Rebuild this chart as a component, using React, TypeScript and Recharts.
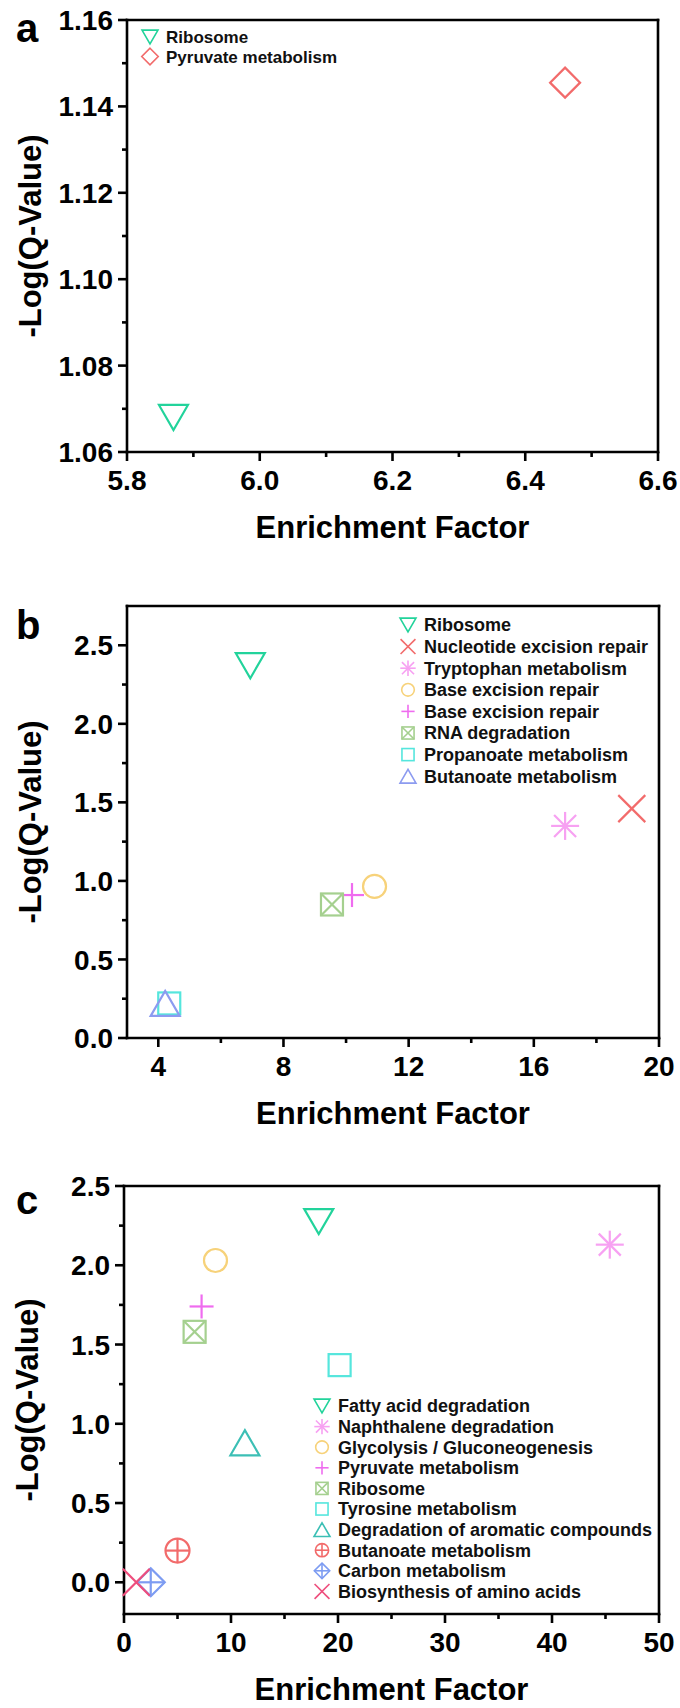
import React from 'react';
import { ScatterChart, Scatter, XAxis, YAxis, ReferenceLine } from 'recharts';

const FONT = 'Arial, "Liberation Sans", Helvetica, sans-serif';

// ---------- Panel a ----------
const aPathways = ['Ribosome', 'Pyruvate metabolism'];
const aEnrichment = [5.87, 6.46];
const aNegLogQ = [1.068, 1.1455];
const aXMajor = [5.8, 6.0, 6.2, 6.4, 6.6];
const aXMinor = [5.9, 6.1, 6.3, 6.5];
const aYMajor = [1.06, 1.08, 1.1, 1.12, 1.14, 1.16];
const aYMinor = [1.07, 1.09, 1.11, 1.13, 1.15];
const aGlyphs = ['triangleDown', 'diamond'];
const aColors = ['#22d39b', '#f26b6b'];

// ---------- Panel b ----------
const bPathways = [
  'Ribosome',
  'Nucleotide excision repair',
  'Tryptophan metabolism',
  'Base excision repair',
  'Base excision repair',
  'RNA degradation',
  'Propanoate metabolism',
  'Butanoate metabolism',
];
const bEnrichment = [6.94, 19.13, 17.0, 10.91, 10.19, 9.55, 4.35, 4.22];
const bNegLogQ = [2.37, 1.46, 1.35, 0.965, 0.91, 0.85, 0.22, 0.22];
const bXMajor = [4, 8, 12, 16, 20];
const bXMinor = [6, 10, 14, 18];
const bYMajor = [0, 0.5, 1, 1.5, 2, 2.5];
const bYMinor = [0.25, 0.75, 1.25, 1.75, 2.25];
const bGlyphs = ['triangleDown', 'cross', 'asterisk', 'circle', 'plus', 'squareX', 'square', 'triangleUp'];
const bColors = ['#22d39b', '#f26b6b', '#f7a1f2', '#f7d27a', '#ef6cef', '#a5d08f', '#55e6dd', '#8c9bf0'];

// ---------- Panel c ----------
const cPathways = [
  'Fatty acid degradation',
  'Naphthalene degradation',
  'Glycolysis / Gluconeogenesis',
  'Pyruvate metabolism',
  'Ribosome',
  'Tyrosine metabolism',
  'Degradation of aromatic compounds',
  'Butanoate metabolism',
  'Carbon metabolism',
  'Biosynthesis of amino acids',
];
const cEnrichment = [18.2, 45.4, 8.55, 7.25, 6.6, 20.15, 11.3, 5.0, 2.5, 1.15];
const cNegLogQ = [2.275, 2.13, 2.03, 1.74, 1.58, 1.37, 0.88, 0.2, 0.0, 0.0];
const cXMajor = [0, 10, 20, 30, 40, 50];
const cXMinor = [5, 15, 25, 35, 45];
const cYMajor = [0, 0.5, 1, 1.5, 2, 2.5];
const cYMinor = [0.25, 0.75, 1.25, 1.75, 2.25];
const cGlyphs = [
  'triangleDown', 'asterisk', 'circle', 'plus', 'squareX',
  'square', 'triangleUp', 'circlePlus', 'diamondPlus', 'cross',
];
const cColors = [
  '#22d39b', '#f7a1f2', '#f7d27a', '#ef6cef', '#a5d08f',
  '#55e6dd', '#3cbfb5', '#f26b6b', '#7d9cf2', '#ee4d7c',
];

type GlyphProps = { kind: string; cx: number; cy: number; color: string; scale?: number; sw?: number };

// Open (unfilled) plot symbols, centred on (cx, cy)
function Glyph({ kind, cx, cy, color, scale = 1, sw = 2.2 }: GlyphProps) {
  const base = { fill: 'none', stroke: color, strokeWidth: sw } as const;
  const s = scale;
  switch (kind) {
    case 'triangleDown': {
      const r = 14.5 * s, h = 25 * s;
      return <polygon {...base} points={`${cx - r},${cy - h / 2} ${cx + r},${cy - h / 2} ${cx},${cy + h / 2}`} />;
    }
    case 'triangleUp': {
      const r = 14.5 * s, h = 25 * s;
      return <polygon {...base} points={`${cx - r},${cy + h / 2} ${cx + r},${cy + h / 2} ${cx},${cy - h / 2}`} />;
    }
    case 'diamond': {
      const d = 15 * s;
      return <polygon {...base} points={`${cx},${cy - d} ${cx + d},${cy} ${cx},${cy + d} ${cx - d},${cy}`} />;
    }
    case 'cross': {
      const d = 13.5 * s;
      return (
        <g {...base}>
          <line x1={cx - d} y1={cy - d} x2={cx + d} y2={cy + d} />
          <line x1={cx - d} y1={cy + d} x2={cx + d} y2={cy - d} />
        </g>
      );
    }
    case 'asterisk': {
      const d = 14 * s, q = 11 * s;
      return (
        <g {...base}>
          <line x1={cx - d} y1={cy} x2={cx + d} y2={cy} />
          <line x1={cx} y1={cy - d} x2={cx} y2={cy + d} />
          <line x1={cx - q} y1={cy - q} x2={cx + q} y2={cy + q} />
          <line x1={cx - q} y1={cy + q} x2={cx + q} y2={cy - q} />
        </g>
      );
    }
    case 'circle':
      return <circle {...base} cx={cx} cy={cy} r={11.5 * s} />;
    case 'plus': {
      const d = 12 * s;
      return (
        <g {...base}>
          <line x1={cx - d} y1={cy} x2={cx + d} y2={cy} />
          <line x1={cx} y1={cy - d} x2={cx} y2={cy + d} />
        </g>
      );
    }
    case 'squareX': {
      const d = 11 * s;
      return (
        <g {...base}>
          <rect x={cx - d} y={cy - d} width={2 * d} height={2 * d} />
          <line x1={cx - d} y1={cy - d} x2={cx + d} y2={cy + d} />
          <line x1={cx - d} y1={cy + d} x2={cx + d} y2={cy - d} />
        </g>
      );
    }
    case 'square': {
      const d = 11 * s;
      return <rect {...base} x={cx - d} y={cy - d} width={2 * d} height={2 * d} />;
    }
    case 'circlePlus': {
      const r = 12 * s;
      return (
        <g {...base}>
          <circle cx={cx} cy={cy} r={r} />
          <line x1={cx - r} y1={cy} x2={cx + r} y2={cy} />
          <line x1={cx} y1={cy - r} x2={cx} y2={cy + r} />
        </g>
      );
    }
    case 'diamondPlus': {
      const d = 14 * s;
      return (
        <g {...base}>
          <polygon points={`${cx},${cy - d} ${cx + d},${cy} ${cx},${cy + d} ${cx - d},${cy}`} />
          <line x1={cx - d} y1={cy} x2={cx + d} y2={cy} />
          <line x1={cx} y1={cy - d} x2={cx} y2={cy + d} />
        </g>
      );
    }
    default:
      return null;
  }
}

const AXIS_W = 2.6;

function isIn(list: number[], v: number) {
  return list.some((m) => Math.abs(m - v) < 1e-9);
}

function makeXTick(major: number[], digits: number) {
  return (props: any) => {
    const { x, y, payload } = props;
    const v = payload.value as number;
    const big = isIn(major, v);
    return (
      <g>
        <line x1={x} x2={x} y1={y} y2={y + (big ? 9 : 5)} stroke="#000" strokeWidth={AXIS_W} />
        {big && (
          <text x={x} y={y + 28} dy="0.36em" textAnchor="middle" fontFamily={FONT} fontWeight="bold" fontSize={28} fill="#000">
            {v.toFixed(digits)}
          </text>
        )}
      </g>
    );
  };
}

function makeYTick(major: number[], digits: number) {
  return (props: any) => {
    const { x, y, payload } = props;
    const v = payload.value as number;
    const big = isIn(major, v);
    return (
      <g>
        <line x1={x} x2={x - (big ? 9 : 5)} y1={y} y2={y} stroke="#000" strokeWidth={AXIS_W} />
        {big && (
          <text x={x - 14} y={y} dy="0.36em" textAnchor="end" fontFamily={FONT} fontWeight="bold" fontSize={28} fill="#000">
            {v.toFixed(digits)}
          </text>
        )}
      </g>
    );
  };
}

type PanelSpec = {
  letter: string;
  names: string[];
  xs: number[];
  ys: number[];
  glyphs: string[];
  colors: string[];
  xDomain: [number, number];
  yDomain: [number, number];
  xMajor: number[];
  xMinor: number[];
  yMajor: number[];
  yMinor: number[];
  xDigits: number;
  yDigits: number;
  top: number;
  height: number;
  marginTop: number;
  marginBottom: number;
  marginRight: number;
  yAxisWidth: number;
  letterY: number;
  legendX: number;
  legendY: number;
  legendStep: number;
  legendFont: number;
};

const WIDTH = 680;
const X_AXIS_H = 70;

function Panel(p: PanelSpec) {
  const plotLeft = p.yAxisWidth;
  const plotRight = WIDTH - p.marginRight;
  const plotTop = p.marginTop;
  const plotBottom = p.height - p.marginBottom - X_AXIS_H;
  const midX = (plotLeft + plotRight) / 2;
  const midY = (plotTop + plotBottom) / 2;
  const xTicks = [...p.xMajor, ...p.xMinor].sort((a, b) => a - b);
  const yTicks = [...p.yMajor, ...p.yMinor].sort((a, b) => a - b);
  const frame = { stroke: '#000', strokeWidth: AXIS_W, strokeLinecap: 'square' as const };

  return (
    <div style={{ position: 'absolute', left: 0, top: p.top, width: WIDTH, height: p.height }}>
      <ScatterChart
        width={WIDTH}
        height={p.height}
        margin={{ top: p.marginTop, right: p.marginRight, bottom: p.marginBottom, left: 0 }}
      >
        <XAxis
          dataKey="x"
          type="number"
          domain={p.xDomain}
          ticks={xTicks}
          interval={0}
          height={X_AXIS_H}
          tickSize={0}
          tickMargin={0}
          tickLine={false}
          axisLine={frame}
          tick={makeXTick(p.xMajor, p.xDigits)}
        />
        <YAxis
          dataKey="y"
          type="number"
          domain={p.yDomain}
          ticks={yTicks}
          interval={0}
          width={p.yAxisWidth}
          tickSize={0}
          tickMargin={0}
          tickLine={false}
          axisLine={frame}
          tick={makeYTick(p.yMajor, p.yDigits)}
        />
        {/* closing top and right edges of the frame */}
        <ReferenceLine y={p.yDomain[1]} stroke="#000" strokeWidth={AXIS_W} strokeLinecap="square" />
        <ReferenceLine x={p.xDomain[1]} stroke="#000" strokeWidth={AXIS_W} strokeLinecap="square" />
        {p.names.map((name, i) => (
          <Scatter
            key={`${name}-${i}`}
            name={name}
            data={[{ x: p.xs[i], y: p.ys[i] }]}
            fill={p.colors[i]}
            isAnimationActive={false}
            shape={(sp: any) => <Glyph kind={p.glyphs[i]} cx={sp.cx} cy={sp.cy} color={p.colors[i]} />}
          />
        ))}
      </ScatterChart>

      <svg
        width={WIDTH}
        height={p.height}
        style={{ position: 'absolute', left: 0, top: 0, pointerEvents: 'none' }}
      >
        <text x={16} y={p.letterY} fontFamily={FONT} fontWeight="bold" fontSize={40} fill="#000">
          {p.letter}
        </text>
        <text
          x={midX}
          y={plotBottom + 75}
          dy="0.36em"
          textAnchor="middle"
          fontFamily={FONT}
          fontWeight="bold"
          fontSize={31}
          fill="#000"
        >
          Enrichment Factor
        </text>
        <text
          transform={`translate(${plotLeft - 97}, ${midY}) rotate(-90)`}
          dy="0.36em"
          textAnchor="middle"
          fontFamily={FONT}
          fontWeight="bold"
          fontSize={31}
          fill="#000"
        >
          -Log(Q-Value)
        </text>
        {p.names.map((name, i) => {
          const yy = p.legendY + i * p.legendStep;
          return (
            <g key={`lg-${i}`}>
              <Glyph kind={p.glyphs[i]} cx={p.legendX} cy={yy} color={p.colors[i]} scale={0.55} sw={1.6} />
              <text
                x={p.legendX + 16}
                y={yy}
                dy="0.36em"
                fontFamily={FONT}
                fontWeight="bold"
                fontSize={p.legendFont}
                fill="#111"
              >
                {name}
              </text>
            </g>
          );
        })}
      </svg>
    </div>
  );
}

export default function App() {
  return (
    <div style={{ position: 'relative', width: WIDTH, height: 1708, background: '#fff', fontFamily: FONT }}>
      <style>{'body{margin:0;background:#fff;}'}</style>
      <Panel
        letter="a"
        names={aPathways}
        xs={aEnrichment}
        ys={aNegLogQ}
        glyphs={aGlyphs}
        colors={aColors}
        xDomain={[5.8, 6.6]}
        yDomain={[1.06, 1.16]}
        xMajor={aXMajor}
        xMinor={aXMinor}
        yMajor={aYMajor}
        yMinor={aYMinor}
        xDigits={1}
        yDigits={2}
        top={0}
        height={560}
        marginTop={20}
        marginBottom={38}
        marginRight={22}
        yAxisWidth={127}
        letterY={42}
        legendX={150}
        legendY={37}
        legendStep={19.5}
        legendFont={17}
      />
      <Panel
        letter="b"
        names={bPathways}
        xs={bEnrichment}
        ys={bNegLogQ}
        glyphs={bGlyphs}
        colors={bColors}
        xDomain={[3, 20]}
        yDomain={[0, 2.75]}
        xMajor={bXMajor}
        xMinor={bXMinor}
        yMajor={bYMajor}
        yMinor={bYMinor}
        xDigits={0}
        yDigits={1}
        top={560}
        height={570}
        marginTop={46}
        marginBottom={22}
        marginRight={21}
        yAxisWidth={127}
        letterY={79}
        legendX={408}
        legendY={65}
        legendStep={21.6}
        legendFont={18}
      />
      <Panel
        letter="c"
        names={cPathways}
        xs={cEnrichment}
        ys={cNegLogQ}
        glyphs={cGlyphs}
        colors={cColors}
        xDomain={[0, 50]}
        yDomain={[-0.2, 2.5]}
        xMajor={cXMajor}
        xMinor={cXMinor}
        yMajor={cYMajor}
        yMinor={cYMinor}
        xDigits={0}
        yDigits={1}
        top={1130}
        height={578}
        marginTop={56}
        marginBottom={24}
        marginRight={21}
        yAxisWidth={124}
        letterY={84}
        legendX={322}
        legendY={276}
        legendStep={20.6}
        legendFont={18}
      />
    </div>
  );
}
